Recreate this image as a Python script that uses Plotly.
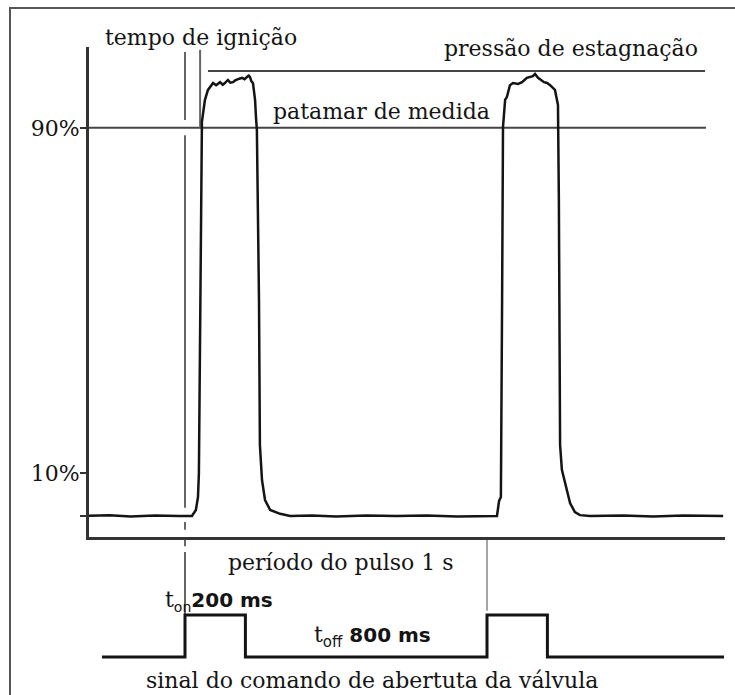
import plotly.graph_objects as go

# Chamber pressure (% of the 90 % / 10 % scale) against time in ms,
# t = 0 being the instant the valve opening command is issued.
pressure_t = [
    -348, -250, -180, -100, -20, 23, 36, 43, 46, 50, 53, 56, 66, 76, 93, 103,
    116, 125, 132, 142, 150, 159, 166, 172, 180, 189, 197, 205, 211, 215, 220,
    225, 232, 235, 238, 245, 248, 255, 265, 282, 315, 348,
    420, 500, 600, 700, 800, 900, 1000, 1033,
    1040, 1046, 1050, 1053, 1060, 1066, 1076, 1086, 1103, 1116, 1132, 1142,
    1152, 1159, 1169, 1179, 1189, 1199, 1209, 1225, 1232, 1235, 1238, 1242,
    1248, 1258, 1275, 1291, 1308, 1341,
    1450, 1550, 1650, 1782,
]
pressure_pct = [
    0, 0.2, -0.1, 0.1, 0, 0, 1.4, 4.4, 10, 50, 85, 91.4, 96.5, 98.8, 100.4, 99.9,
    100.6, 100.0, 100.4, 101.1, 100.5, 100.6, 101.0, 101.1, 101.4, 101.6, 101.3,
    101.8, 102.1, 101.8, 100.8, 100.4, 96.5, 92.5, 89.5, 50.1, 16.5, 8.3, 3.7,
    1.4, 0.5, 0,
    0.1, -0.1, 0.1, 0, 0.1, -0.1, 0, 0,
    3.5, 4.4, 50.1, 90.2, 96.5, 97.2, 99.9, 100.4, 100.2, 100.6, 101.6, 101.8,
    102.0, 102.5, 101.6, 101.1, 100.6, 100.4, 99.9, 98.8, 96.5, 95.3, 73.3, 16.5,
    10.7, 7.7, 3.0, 0.9, 0.2, 0,
    0.1, -0.1, 0.1, 0,
]

# Valve opening command (0 = closed, 1 = open): t_on 200 ms, period 1 s
command_t = [-275, 0, 0, 200, 200, 1000, 1000, 1200, 1200, 1785]
command_state = [0, 0, 1, 1, 0, 0, 1, 1, 0, 0]

measure_level_pct = 90          # patamar de medida
stagnation_level_pct = 103.2    # pressão de estagnação
ignition_t = 50                 # tempo de ignição
pulse_start_t = [0, 1000]

tick_values = [0, 10, 90]
tick_labels = ["", "10%", "90%"]

W, H = 735, 695
INK = "#141414"
GREY = "#555555"
SERIF = "DejaVu Serif"
SANS = "DejaVu Sans"

fig = go.Figure()

# --- pressure panel -------------------------------------------------------
fig.add_trace(go.Scatter(
    x=[-318, 1725], y=[measure_level_pct] * 2, mode="lines",
    line=dict(color="#444444", width=2), hoverinfo="skip"))
fig.add_trace(go.Scatter(
    x=[76, 1722], y=[stagnation_level_pct] * 2, mode="lines",
    line=dict(color="#444444", width=2), hoverinfo="skip"))

# command instant, broken where it crosses the threshold line and the axis
fig.add_trace(go.Scatter(
    x=[pulse_start_t[0]] * 8,
    y=[107.6, 91.8, None, 88.3, 1.9, None, -1.4, -3.2],
    mode="lines", line=dict(color="#666666", width=2), hoverinfo="skip"))
# ignition instant
fig.add_trace(go.Scatter(
    x=[ignition_t, ignition_t], y=[108.1, measure_level_pct], mode="lines",
    line=dict(color="#666666", width=2), hoverinfo="skip"))

fig.add_trace(go.Scatter(
    x=pressure_t, y=pressure_pct, mode="lines",
    line=dict(color=INK, width=2.5), hoverinfo="skip"))

# --- command panel --------------------------------------------------------
fig.add_trace(go.Scatter(
    x=[pulse_start_t[0]] * 5, y=[2.79, 2.64, None, 2.5, 1],
    mode="lines", line=dict(color="#666666", width=2),
    xaxis="x2", yaxis="y2", hoverinfo="skip"))
fig.add_trace(go.Scatter(
    x=[pulse_start_t[1]] * 2, y=[2.79, 1.1],
    mode="lines", line=dict(color="#888888", width=1.5),
    xaxis="x2", yaxis="y2", hoverinfo="skip"))
fig.add_trace(go.Scatter(
    x=command_t, y=command_state, mode="lines",
    line=dict(color=INK, width=3, shape="linear"),
    xaxis="x2", yaxis="y2", hoverinfo="skip"))

x_dom = [89 / W, 725 / W]
x_rng = [-317.9, 1788.1]

fig.update_layout(
    width=W, height=H,
    margin=dict(l=0, r=0, t=0, b=0, pad=0),
    paper_bgcolor="white", plot_bgcolor="white",
    showlegend=False,
    xaxis=dict(domain=x_dom, range=x_rng, anchor="y",
               showline=True, linewidth=3, linecolor="#333333",
               showgrid=False, zeroline=False, ticks="",
               showticklabels=False, fixedrange=True),
    yaxis=dict(domain=[1 - 537 / H, 1 - 47 / H], range=[-4.87, 108.75],
               anchor="x", showline=True, linewidth=3, linecolor="#333333",
               showgrid=False, zeroline=False,
               tickmode="array", tickvals=tick_values, ticktext=tick_labels,
               ticks="outside", ticklen=6, tickwidth=2, tickcolor="#333333",
               ticklabelstandoff=-4,
               tickfont=dict(family=SERIF, size=22, color=INK),
               fixedrange=True),
    xaxis2=dict(domain=x_dom, range=x_rng, anchor="y2", matches="x",
                visible=False),
    yaxis2=dict(domain=[0, 1 - 540 / H], range=[-0.905, 2.786],
                anchor="x2", visible=False),
    shapes=[dict(type="rect", xref="paper", yref="paper",
                 x0=10 / W, x1=1.05, y0=-0.05, y1=1 - 8 / H,
                 line=dict(color=GREY, width=2), layer="below")],
)

label_font = dict(family=SERIF, size=22, color=INK)


def note(text, x, y, xref="x", yref="y", xanchor="center"):
    fig.add_annotation(text=text, x=x, y=y, xref=xref, yref=yref,
                       xanchor=xanchor, yanchor="middle", showarrow=False,
                       font=label_font)


note("tempo de ignição", 201 / W, 1 - 37 / H, "paper", "paper")
note("pressão de estagnação", 1278, 108.3)
note("patamar de medida", 649, 93.9)
note("período do pulso 1 s", 517, 2.24, "x2", "y2")
note('t<sub><span style="font-family:DejaVu Sans;font-size:14px">on</span></sub>'
     '<span style="font-family:DejaVu Sans;font-weight:bold;font-size:20px">'
     '200 ms</span>', -74, 1.33, "x2", "y2", "left")
note('t<sub><span style="font-family:DejaVu Sans;font-size:15px">off</span></sub>'
     '<span style="font-family:DejaVu Sans;font-weight:bold;font-size:20px">'
     ' 800 ms</span>', 419, 0.5, "x2", "y2", "left")
note("sinal do comando de abertuta da válvula", 619, -0.55, "x2", "y2")

fig.write_html("out.html")
